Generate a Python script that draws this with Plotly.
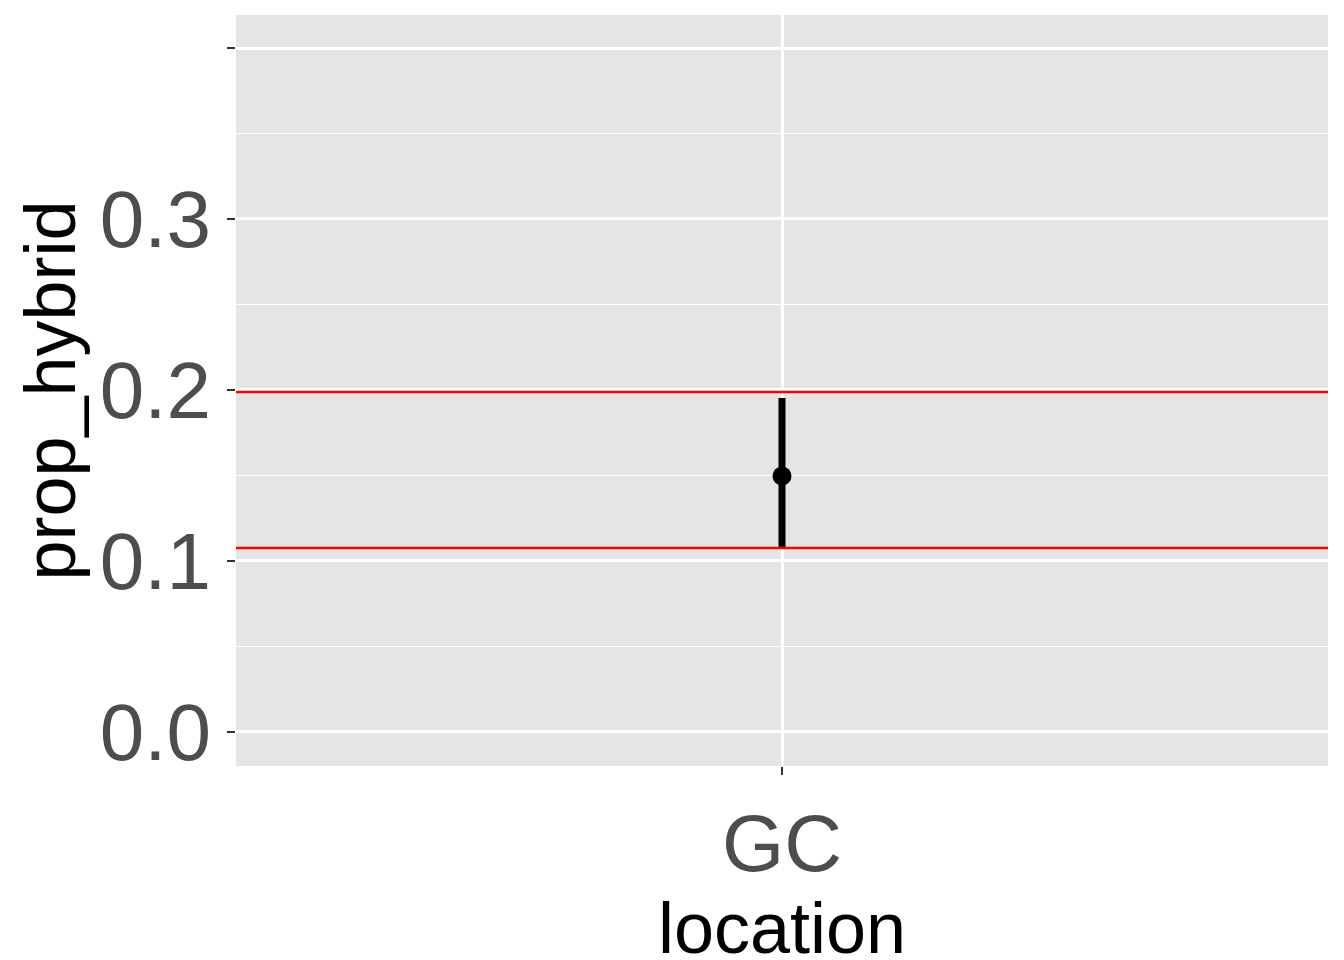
import plotly.graph_objects as go

locations = ["GC"]
prop_mean = [0.1497]
ci_low = [0.1076]
ci_high = [0.1953]
ref_lines = [0.1076, 0.1988]

fig = go.Figure()
fig.add_trace(go.Scatter(
    x=locations, y=prop_mean, mode="markers",
    marker=dict(color="black", size=19),
    error_y=dict(type="data", symmetric=False,
                 array=[h - m for h, m in zip(ci_high, prop_mean)],
                 arrayminus=[m - l for m, l in zip(prop_mean, ci_low)],
                 color="black", thickness=7, width=0),
    showlegend=False,
))
for y in ref_lines:
    fig.add_hline(y=y, line=dict(color="red", width=2.5))

fig.update_layout(
    width=1344, height=960,
    margin=dict(l=228, r=24, t=7, b=202),
    plot_bgcolor="#e5e5e5", paper_bgcolor="white",
    font=dict(family="Liberation Sans, Arial", color="black"),
)
fig.update_xaxes(
    range=[-0.6, 0.6], showgrid=True, gridcolor="white", gridwidth=2.5,
    ticks="outside", ticklen=8, tickcolor="#333333", tickwidth=2,
    tickfont=dict(size=80, color="#4d4d4d"),
    title=dict(text="location", font=dict(size=72, color="black"), standoff=4),
    zeroline=False,
)
fig.update_yaxes(
    range=[-0.0199, 0.4193], tickvals=[0, 0.1, 0.2, 0.3, 0.4],
    ticktext=["0.0", "0.1", "0.2", "0.3", "0.4"],
    showgrid=True, gridcolor="white", gridwidth=2.5,
    minor=dict(tickvals=[0.05, 0.15, 0.25, 0.35], showgrid=True, gridcolor="white", gridwidth=1.2, ticks=""),
    ticks="outside", ticklen=8, tickcolor="#333333", tickwidth=2,
    tickfont=dict(size=80, color="#4d4d4d"),
    title=dict(text="prop_hybrid", font=dict(size=72, color="black"), standoff=0),
    zeroline=False,
)
fig.write_html("out.html")
